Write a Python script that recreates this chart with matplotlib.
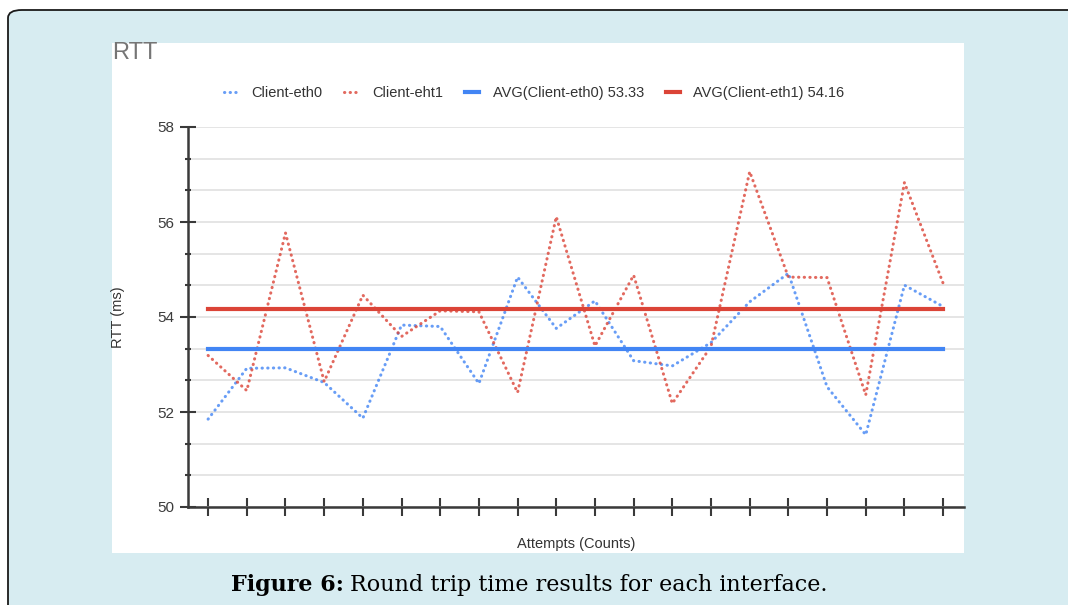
import numpy as np
import matplotlib
matplotlib.use("Agg")
import matplotlib.pyplot as plt
from matplotlib.patches import Rectangle, FancyBboxPatch

plt.rcParams['font.family'] = ['Liberation Sans', 'DejaVu Sans']

# === DATOS ===
attempts = np.arange(20)
rtt_eth0 = [51.85, 52.92, 52.93, 52.62, 51.87, 53.83, 53.80, 52.60, 54.84, 53.76,
            54.34, 53.08, 52.97, 53.46, 54.32, 54.92, 52.53, 51.52, 54.67, 54.22]
rtt_eth1 = [53.19, 52.45, 55.77, 52.64, 54.46, 53.59, 54.13, 54.11, 52.41, 56.11,
            53.39, 54.88, 52.18, 53.38, 57.06, 54.84, 54.83, 52.36, 56.83, 54.71]
avg_eth0 = 53.33
avg_eth1 = 54.16
labels = ["Client-eth0", "Client-eht1",
          f"AVG(Client-eth0) {avg_eth0:.2f}", f"AVG(Client-eth1) {avg_eth1:.2f}"]

W, H = 1068, 605
BLUE = '#4285f4'
RED = '#db4437'
AXC = '#3a3a3a'


def fx(px):
    return px / W


def fy(py):
    return 1 - py / H


fig = plt.figure(figsize=(W / 100, H / 100), dpi=100, facecolor='white')

# === FONDO (recuadro azul claro y panel blanco) ===
caja = FancyBboxPatch((fx(8), fy(640)), fx(1120) - fx(8), fy(10) - fy(640),
                      boxstyle="round,pad=0,rounding_size=0.013",
                      transform=fig.transFigure, facecolor='#d7ecf1',
                      edgecolor='#1a1a1a', linewidth=1.3, zorder=-2)
fig.add_artist(caja)
panel = Rectangle((fx(112), fy(553)), fx(964) - fx(112), fy(43) - fy(553),
                  transform=fig.transFigure, facecolor='white',
                  edgecolor='none', zorder=-1)
fig.add_artist(panel)

# === EJES ===
ax = fig.add_axes([fx(188), fy(507), fx(964) - fx(188), fy(127) - fy(507)])
ax.set_facecolor('none')
ax.set_xlim(-0.52, 19.54)
ax.set_ylim(50, 58)

# series punteadas (puntos redondos)
l0, = ax.plot(attempts, rtt_eth0, color=BLUE, lw=2.2,
              linestyle=(0, (0.1, 1.75)), dash_capstyle='round', alpha=0.8)
l1, = ax.plot(attempts, rtt_eth1, color=RED, lw=2.2,
              linestyle=(0, (0.1, 1.75)), dash_capstyle='round', alpha=0.8)
# promedios
l2, = ax.plot(attempts, np.full(len(attempts), avg_eth0), color=BLUE, lw=3.0)
l3, = ax.plot(attempts, np.full(len(attempts), avg_eth1), color=RED, lw=3.0)

ax.set_yticks(np.arange(50, 59, 2))
ax.set_yticks(np.arange(50, 58.01, 2 / 3), minor=True)
ax.set_xticks(attempts)
ax.set_xticklabels([])
ax.grid(True, which='both', axis='y', color='#e3e3e3', lw=1.3)
ax.set_axisbelow(True)

for s in ['top', 'right']:
    ax.spines[s].set_visible(False)
for s in ['left', 'bottom']:
    ax.spines[s].set_color(AXC)
    ax.spines[s].set_linewidth(1.8)

ax.tick_params(axis='y', which='major', direction='inout', length=11, width=1.5,
               color=AXC, labelsize=11, labelcolor='#3c3c3c', pad=4)
ax.tick_params(axis='y', which='minor', direction='inout', length=5, width=1.5,
               color=AXC)
ax.tick_params(axis='x', which='major', direction='inout', length=13, width=1.5,
               color=AXC)

# === TEXTOS ===
fig.text(fx(112), fy(53), "RTT", fontsize=17, color='#757575', va='center', ha='left')
fig.text(fx(118), fy(317), "RTT (ms)", fontsize=10.5, color='#333333',
         rotation=90, va='center', ha='center')
fig.text(fx(576), fy(544), "Attempts (Counts)", fontsize=10.5, color='#333333',
         va='center', ha='center')

ax.legend([l0, l1, l2, l3], labels, ncol=4, frameon=False, fontsize=10.5,
          loc='center', bbox_to_anchor=(fx(534), fy(93)),
          bbox_transform=fig.transFigure, handlelength=1.0,
          handletextpad=0.9, columnspacing=1.5, labelcolor='#333333')

# Pie de figura: parte en negrita y resto normal
fig.canvas.draw()
rend = fig.canvas.get_renderer()
t1 = fig.text(fx(231), fy(585), "Figure 6:", fontsize=16, fontweight='bold',
              family='DejaVu Serif', va='center', ha='left', color='black')
bb = t1.get_window_extent(renderer=rend)
fig.text(bb.x1 / W + fx(6), fy(585), "Round trip time results for each interface.",
         fontsize=16, family='DejaVu Serif', va='center', ha='left', color='black')

fig.savefig("out.png", dpi=100)
